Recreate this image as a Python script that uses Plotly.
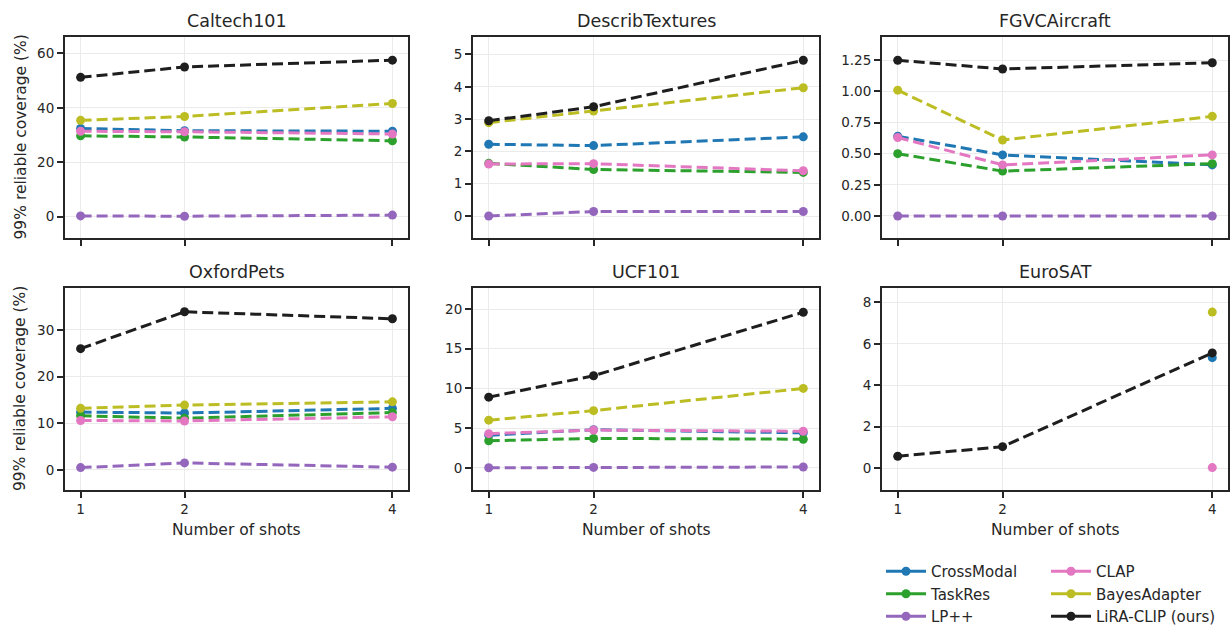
import plotly.graph_objects as go

# ---------------- data ----------------
shots = [1, 2, 4]
methods = ["CrossModal", "TaskRes", "LP++", "CLAP", "BayesAdapter", "LiRA-CLIP (ours)"]
datasets = ["Caltech101", "DescribTextures", "FGVCAircraft", "OxfordPets", "UCF101", "EuroSAT"]

# rows follow `methods` order
caltech101 = [
    [32.4, 31.6, 31.4],
    [29.7, 29.3, 27.9],
    [0.3, 0.2, 0.6],
    [31.4, 31.2, 30.4],
    [35.4, 36.8, 41.6],
    [51.2, 55.0, 57.5],
]
describtextures = [
    [2.22, 2.18, 2.45],
    [1.63, 1.44, 1.35],
    [0.0, 0.14, 0.14],
    [1.61, 1.62, 1.40],
    [2.89, 3.25, 3.97],
    [2.95, 3.38, 4.82],
]
fgvcaircraft = [
    [0.64, 0.49, 0.41],
    [0.50, 0.36, 0.42],
    [0.0, 0.0, 0.0],
    [0.63, 0.41, 0.49],
    [1.01, 0.61, 0.80],
    [1.25, 1.18, 1.23],
]
oxfordpets = [
    [12.4, 12.2, 13.2],
    [11.6, 11.1, 12.3],
    [0.5, 1.5, 0.6],
    [10.6, 10.5, 11.4],
    [13.2, 13.9, 14.6],
    [26.0, 33.9, 32.4],
]
ucf101 = [
    [4.1, 4.8, 4.4],
    [3.4, 3.7, 3.6],
    [0.0, 0.05, 0.1],
    [4.3, 4.75, 4.6],
    [6.0, 7.2, 10.0],
    [8.9, 11.6, 19.6],
]
eurosat = [
    [None, None, 5.33],
    [None, None, None],
    [None, None, None],
    [None, None, 0.03],
    [None, None, 7.53],
    [0.58, 1.04, 5.56],
]
all_values = [caltech101, describtextures, fgvcaircraft, oxfordpets, ucf101, eurosat]

# ---------------- styles ----------------
colors = ["#1f77b4", "#2ca02c", "#9467bd", "#e377c2", "#bcbd22", "#1e1e1e"]
FONT = "DejaVu Sans"
TXT = "#262626"
W, H = 1232, 625
L, R, T, B = 65, 4, 37, 135
pw, ph = W - L - R, H - T - B

col_px = [(65, 408), (473, 819), (882, 1228)]
row_px = [(37, 238), (288, 490)]
yranges = [[-7.8, 66], [-0.68, 5.54], [-0.177, 1.437], [-4.3, 39.0], [-2.8, 22.65], [-1.05, 8.69]]
ydticks = [20, 1, 0.25, 10, 5, 2]
ytickfmt = [None, None, ".2f", None, None, None]


def xdom(c):
    a, b = col_px[c]
    return [(a - L) / pw, (b - L) / pw]


def ydom(r):
    a, b = row_px[r]
    return [(H - B - b) / ph, (H - B - a) / ph]


fig = go.Figure()
layout = dict(
    template="none",
    width=W, height=H,
    margin=dict(l=L, r=R, t=T, b=B, autoexpand=False),
    paper_bgcolor="white", plot_bgcolor="white",
    font=dict(family=FONT, color=TXT, size=13.5),
    showlegend=True,
)
annotations = []

for i, name in enumerate(datasets):
    r, c = divmod(i, 3)
    k = i + 1
    xa = "x" if k == 1 else f"x{k}"
    ya = "y" if k == 1 else f"y{k}"
    vals = all_values[i]
    for m, meth in enumerate(methods):
        fig.add_trace(go.Scatter(
            x=shots, y=vals[m], xaxis=xa, yaxis=ya,
            mode="lines+markers", name=meth, showlegend=False,
            line=dict(color=colors[m], width=3, dash="11px,5px"),
            marker=dict(color=colors[m], size=9, line=dict(width=0)),
            connectgaps=False,
        ))
    axcommon = dict(
        showline=True, mirror=True, linecolor=TXT, linewidth=2,
        ticks="outside", ticklen=6, tickwidth=1.5, tickcolor=TXT,
        showgrid=True, gridcolor="#ebebeb", gridwidth=1, zeroline=False,
        automargin=False,
        tickfont=dict(family=FONT, size=13.5, color=TXT),
    )
    layout["xaxis" if k == 1 else f"xaxis{k}"] = dict(
        axcommon, domain=xdom(c), anchor=ya, range=[0.85, 4.15],
        tickvals=shots, ticktext=[str(s) for s in shots],
        showticklabels=(r == 1),
    )
    yd = dict(
        axcommon, domain=ydom(r), anchor=xa, range=yranges[i],
        dtick=ydticks[i], tick0=0,
    )
    if ytickfmt[i]:
        yd["tickformat"] = ytickfmt[i]
    layout["yaxis" if k == 1 else f"yaxis{k}"] = yd

    # subplot title
    xd = xdom(c)
    annotations.append(dict(
        text=name, x=(xd[0] + xd[1]) / 2, y=ydom(r)[1], xref="paper", yref="paper",
        xanchor="center", yanchor="bottom", yshift=4, showarrow=False,
        font=dict(family=FONT, size=17.5, color=TXT),
    ))
    if r == 1:
        annotations.append(dict(
            text="Number of shots", x=(xd[0] + xd[1]) / 2, y=(H - B - 530) / ph,
            xref="paper", yref="paper", xanchor="center", yanchor="middle",
            showarrow=False, font=dict(family=FONT, size=15.5, color=TXT),
        ))
    if c == 0:
        yy = ydom(r)
        annotations.append(dict(
            text="99% reliable coverage (%)", x=(20 - L) / pw, y=(yy[0] + yy[1]) / 2,
            xref="paper", yref="paper", xanchor="center", yanchor="middle",
            textangle=-90, showarrow=False, font=dict(family=FONT, size=15.5, color=TXT),
        ))

# legend entries (solid samples), split into two columns
for m, meth in enumerate(methods):
    fig.add_trace(go.Scatter(
        x=[None], y=[None], mode="lines+markers", name=meth,
        line=dict(color=colors[m], width=3), marker=dict(color=colors[m], size=9),
        legend="legend" if m < 3 else "legend2", showlegend=True,
    ))

legcommon = dict(
    orientation="v", yanchor="top", xanchor="left", bgcolor="rgba(0,0,0,0)",
    font=dict(family=FONT, size=15, color=TXT), itemwidth=40, tracegroupgap=0,
    xref="container", yref="container", borderwidth=0,
)
layout["legend"] = dict(legcommon, x=881 / W, y=1 - 555 / H)
layout["legend2"] = dict(legcommon, x=1046 / W, y=1 - 555 / H)
layout["annotations"] = annotations

fig.update_layout(**layout)
fig.write_html("out.html", config={"displayModeBar": False},
               post_script="document.body.style.margin='0px';")
